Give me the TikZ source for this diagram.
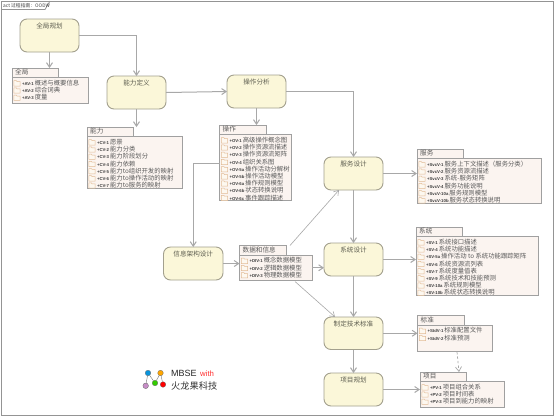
\documentclass[tikz,border=0pt]{standalone}
\usepackage{fontspec}
\setmainfont{Noto Sans CJK SC}
\newfontfamily\codefont{Liberation Sans}
\usetikzlibrary{arrows.meta,calc}
\definecolor{actfill}{HTML}{FBF7D9}
\definecolor{actline}{HTML}{A3A08E}
\definecolor{pkgfill}{HTML}{FBF4F0}
\definecolor{pkgline}{HTML}{A0A0A0}
\definecolor{conn}{HTML}{A8A8A8}
\definecolor{txt}{HTML}{5A5A5A}
\definecolor{foldline}{HTML}{E2BC96}
\definecolor{foldfill}{HTML}{FDF8F0}
\tikzset{
  actbox/.style={draw=actline,fill=actfill,line width=.9pt,rounded corners=7pt,inner sep=0pt,outer sep=0pt},
  acttitle/.style={anchor=north,inner sep=0pt,text=txt!90!olive,text height=6pt,text depth=1pt,font=\fontsize{6.6}{7}\selectfont},
  pkgbox/.style={draw=pkgline,fill=pkgfill,line width=1pt,inner sep=0pt,outer sep=0pt,anchor=north west},
  pkgtitle/.style={anchor=west,inner sep=0pt,text=txt,text height=5pt,text depth=1pt,font=\fontsize{6.6}{7}\selectfont},
  itemtext/.style={anchor=west,inner sep=0pt,text=txt,text height=5pt,text depth=1pt,font=\fontsize{6.35}{7}\selectfont},
  folder/.style={draw=foldline,fill=foldfill,line width=.5pt},
  flow/.style={draw=conn,line width=1pt,-{Straight Barb[length=4.5pt,width=6pt]}},
  thinflow/.style={flow,line width=.6pt},
  dep/.style={flow,dashed,line width=.7pt,dash pattern=on 2.5pt off 2pt},
  logoball/.style={circle,draw=black!60,line width=.3pt,minimum size=5.6pt,inner sep=0pt},
  logoline/.style={draw=black!55,line width=.4pt}
}
% \actnode{name}{x1}{y1}{w}{h}{title}
\newcommand{\actnode}[6]{%
  \node[actbox,minimum width=#4pt,minimum height=#5pt,anchor=north west] (#1) at (#2,#3) {};
  \node[acttitle] (#1-title) at ($(#1.north)+(0,3.5)$) {#6};
}
% \pkgnode{name}{x}{ytab}{ybody}{bodyw}{bodyh}{title}{items}
\newcommand{\pkgnode}[8]{%
  \node[pkgbox,minimum width=46.5pt,minimum height=9.5pt] (#1t) at (#2,#3) {};
  \node[pkgtitle] (#1-title) at ($(#1t.west)+(3,0)$) {#7};
  \node[pkgbox,minimum width=#5pt,minimum height=#6pt] (#1b) at (#2,#4) {};
  \foreach \pcode/\ptext [count=\pn] in {#8} {
    \pgfmathsetmacro{\ry}{5.9+7.2*(\pn-1)}
    \begin{scope}[shift={(#1b.north west)}]
      \draw[folder] (1.8,\ry+2.6) -- (1.8,\ry-2.7) -- (4.4,\ry-2.7) -- (5,\ry-1.8) -- (8,\ry-1.8) -- (8,\ry+2.6) -- cycle;
      \node[itemtext] (#1-item-\pn) at (9.8,\ry) {{\codefont\bfseries\fontsize{4.3}{5}\selectfont\color{black!75}+\pcode}\hspace{1pt}\ptext};
    \end{scope}
  }
}
\begin{document}
\begin{tikzpicture}[x=1pt,y=-1pt]
\useasboundingbox (0,0) rectangle (554,416);
\fill[white] (0,0) rectangle (554,416);
% frame
\node[inner sep=0pt,outer sep=0pt,minimum width=552pt,minimum height=414pt,draw=black!42,line width=1pt,anchor=north west] (frame) at (1,1) {};
\draw[black!42,line width=.8pt] (1,9.5) -- (45,9.5) -- (50,1);
\node[anchor=west,inner sep=0pt,text=black!75,font=\fontsize{4.8}{5}\selectfont] (frametitle) at (3,5.2) {act 过程指南：OODW};

% activities
\actnode{gp}{20}{19}{59}{33}{全局规划}
\actnode{nl}{107}{76}{59}{33}{能力定义}
\actnode{cz}{227}{75}{59}{33}{操作分析}
\actnode{fw}{324}{157}{59}{33}{服务设计}
\actnode{xt}{324}{243}{59}{33}{系统设计}
\actnode{xx}{163.5}{247}{59.5}{33}{信息架构设计}
\actnode{bz}{324}{317}{59}{32.5}{制定技术标准}
\actnode{xm}{324}{373}{59}{33}{项目规划}

% packages
\pkgnode{pa}{12}{68}{77.5}{76}{25.5}{全局}{AV-1/概述与概要信息,AV-2/综合词典,AV-3/度量}
\pkgnode{pn}{87}{127}{136.5}{95}{52}{能力}{CV-1/愿景,CV-2/能力分类,CV-3/能力阶段划分,CV-4/能力依赖,CV-5/能力to组织开发的映射,CV-6/能力to操作活动的映射,CV-7/能力to服务的映射}
\pkgnode{po}{219.5}{125}{134.5}{71.5}{66}{操作}{OV-1/高级操作概念图,OV-2/操作资源流描述,OV-3/操作资源流矩阵,OV-4/组织关系图,OV-5a/操作活动分解树,OV-5b/操作活动模型,OV-6a/操作规则模型,OV-6b/状态转换说明,OV-6c/事件跟踪描述}
\pkgnode{ps}{417}{149}{158.5}{124}{45}{服务}{SvcV-1/服务上下文描述（服务分类）,SvcV-2/服务资源流描述,SvcV-3/系统-服务矩阵,SvcV-4/服务功能说明,SvcV-10a/服务规则模型,SvcV-10b/服务状态转换说明}
\pkgnode{py}{416}{227}{236.5}{122}{58.5}{系统}{SV-1/系统接口描述,SV-4/系统功能描述,SV-5a/操作活动 to 系统功能跟踪矩阵,SV-6/系统资源流列表,SV-7/系统度量值表,SV-9/系统技术和技能预测,SV-10a/系统规则模型,SV-10b/系统状态转换说明}
\pkgnode{pd}{239.5}{245.5}{255}{72.5}{25.5}{数据和信息}{DIV-1/概念数据模型,DIV-2/逻辑数据模型,DIV-3/物理数据模型}
\pkgnode{pb}{417.5}{315.5}{325}{74.5}{26}{标准}{StdV-1/标准配置文件,StdV-2/标准预测}
\pkgnode{pm}{420}{372}{381.5}{84}{26}{项目}{PV-1/项目组合关系,PV-2/项目时间表,PV-3/项目到能力的映射}

% connectors
\draw[flow] (gp.south) -- (gp.south |- pat.north);
\draw[flow] (gp.east) -| (nl.north);
\draw[flow] (nl.east) -- (cz.west);
\draw[flow] (nl.south) -- (nl.south |- pnt.north);
\draw[flow] (cz.south) -- (cz.south |- pot.north);
\draw[flow] (cz.east) -| (fw.north);
\draw[flow] ($(pob.north west)+(0,29)$) -| (xx.north);
\draw[flow] (xx.east) -- (xx.east -| pdb.west);
\draw[flow] (pdb.east) -- (pdb.east -| xt.west);
\draw[thinflow] ($(pdt.north east)+(4,0)$) -- ($(fw.south west)+(15,0)$);
\draw[thinflow] ($(pdb.south east)+(-17,1)$) -- ($(bz.north west)+(11,0)$);
\draw[flow] (fw.east) -- (fw.east -| psb.west);
\draw[flow] (fw.south) -- (xt.north);
\draw[flow] (xt.east) -- (xt.east -| pyb.west);
\draw[flow] (xt.south) -- (bz.north);
\draw[flow] (bz.east) -- (bz.east -| pbb.west);
\draw[flow] (bz.south) -- (xm.north);
\draw[flow] (xm.east) -- (xm.east -| pmb.west);
\draw[dep] ($(pbb.south west)+(39.5,1)$) -- ($(pmt.north west)+(39,0)$);

% logo
\node[logoball,fill=cyan!80!blue] (lb) at (148,373) {};
\node[logoball,fill=orange!70!yellow] (lo) at (160.5,373) {};
\node[logoball,fill=violet!45!white] (lp) at (145.7,385.8) {};
\node[logoball,fill=green!60!olive] (lg) at (155,383) {};
\node[logoball,fill=red] (lr) at (163,384.5) {};
\draw[logoline] (lp) -- (lb);
\draw[logoline] (lb) -- (lg);
\draw[logoline] (lg) -- (lo);
\draw[logoline] (lo) -- (lr);
\node[anchor=west,inner sep=0pt,font=\codefont\fontsize{9}{10}\selectfont,text=black!85] (logom) at (171,373) {MBSE};
\node[anchor=west,inner sep=0pt,font=\codefont\fontsize{7.8}{10}\selectfont,text=red!80] (logow) at (200,373.5) {with};
\node[anchor=west,inner sep=0pt,font=\fontsize{9.2}{10}\selectfont,text=black!80] (logoz) at (171,385.5) {火龙果科技};
\end{tikzpicture}
\end{document}
